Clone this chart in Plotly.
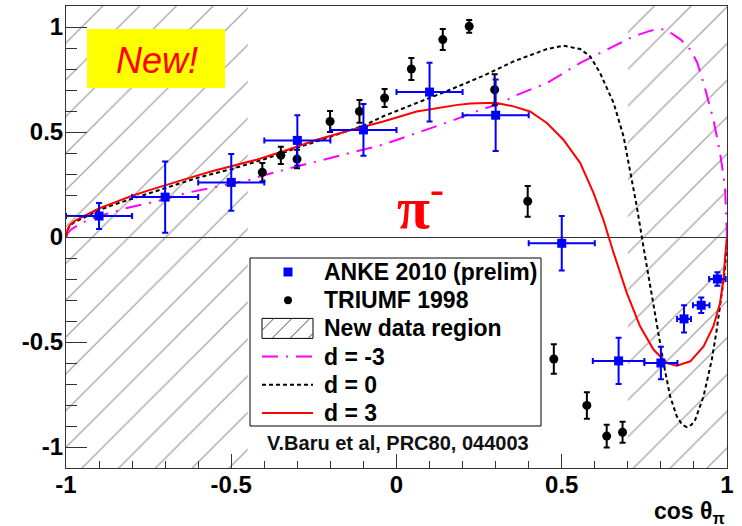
import plotly.graph_objects as go

# ---------------- data ----------------
# ANKE 2010 (prelim) analysing power
anke_x = [-0.9, -0.7, -0.5, -0.3, -0.1, 0.1, 0.3, 0.5, 0.672, 0.8, 0.87, 0.922, 0.971]
anke_y = [0.10, 0.19, 0.26, 0.46, 0.51, 0.69, 0.58, -0.03, -0.59, -0.60, -0.39, -0.325, -0.20]
anke_xerr = [0.1, 0.1, 0.1, 0.1, 0.1, 0.1, 0.1, 0.1, 0.078, 0.05, 0.021, 0.025, 0.025]
anke_yerr = [0.062, 0.17, 0.135, 0.12, 0.123, 0.14, 0.17, 0.13, 0.11, 0.077, 0.065, 0.037, 0.032]

# TRIUMF 1998
triumf_x = [-0.406, -0.35, -0.301, -0.201, -0.112, -0.036, 0.045, 0.140, 0.22, 0.297,
            0.397, 0.476, 0.576, 0.636, 0.684]
triumf_y = [0.308, 0.389, 0.371, 0.55, 0.598, 0.662, 0.80, 0.94, 1.003, 0.701,
            0.17, -0.581, -0.802, -0.948, -0.93]
triumf_yerr = [0.044, 0.041, 0.044, 0.05, 0.054, 0.043, 0.052, 0.05, 0.03, 0.074,
               0.073, 0.07, 0.063, 0.054, 0.05]

# theory curves, d = 3
d3_x = [-1.0, -0.998, -0.995, -0.988, -0.975, -0.958, -0.93, -0.897, -0.85, -0.806, -0.75,
        -0.706, -0.65, -0.594, -0.55, -0.504, -0.423, -0.342, -0.241, -0.14, -0.04, 0.061,
        0.122, 0.18, 0.223, 0.27, 0.3, 0.354, 0.404, 0.455, 0.505, 0.556, 0.596, 0.626,
        0.657, 0.697, 0.737, 0.778, 0.818, 0.848, 0.889, 0.929, 0.959, 0.979, 0.989,
        0.994, 0.998, 1.0]
d3_y = [0.0, 0.022, 0.036, 0.058, 0.075, 0.09, 0.112, 0.138, 0.166, 0.193, 0.222,
        0.244, 0.272, 0.297, 0.317, 0.336, 0.368, 0.408, 0.463, 0.508, 0.55, 0.598,
        0.614, 0.628, 0.636, 0.64, 0.639, 0.622, 0.598, 0.543, 0.463, 0.352, 0.21, 0.082,
        -0.076, -0.267, -0.425, -0.537, -0.6, -0.613, -0.592, -0.521, -0.425, -0.314, -0.203,
        -0.1, -0.03, 0.0]

# d = 0
d0_x = [-1.0, -0.998, -0.995, -0.988, -0.975, -0.958, -0.93, -0.9, -0.85, -0.8, -0.7,
        -0.6, -0.5, -0.4, -0.3, -0.2, -0.1, -0.04, 0.061, 0.162, 0.263, 0.354, 0.455,
        0.505, 0.556, 0.586, 0.616, 0.657, 0.687, 0.707, 0.727, 0.747, 0.768, 0.788,
        0.808, 0.828, 0.848, 0.865, 0.879, 0.892, 0.904, 0.929, 0.954, 0.969, 0.984,
        0.994, 1.0]
d0_y = [0.0, 0.02, 0.034, 0.055, 0.07, 0.083, 0.105, 0.128, 0.157, 0.182, 0.232,
        0.283, 0.323, 0.37, 0.425, 0.478, 0.53, 0.575, 0.638, 0.701, 0.768, 0.836, 0.895,
        0.911, 0.895, 0.86, 0.781, 0.638, 0.479, 0.32, 0.146, -0.045, -0.235, -0.425,
        -0.6, -0.759, -0.854, -0.895, -0.905, -0.895, -0.87, -0.759, -0.584, -0.441, -0.283,
        -0.156, 0.0]

# d = -3
dm3_x = [-1.0, -0.995, -0.985, -0.97, -0.958, -0.93, -0.9, -0.85, -0.816, -0.75, -0.7,
         -0.635, -0.57, -0.514, -0.443, -0.413, -0.302, -0.22, -0.14, -0.04, 0.061, 0.162,
         0.253, 0.314, 0.354, 0.455, 0.556, 0.657, 0.717, 0.76, 0.788, 0.81, 0.828, 0.86,
         0.889, 0.91, 0.929, 0.959, 0.979, 0.994, 0.999, 1.0]
dm3_y = [0.0, 0.018, 0.035, 0.052, 0.063, 0.082, 0.1, 0.122, 0.138, 0.162, 0.18,
         0.21, 0.23, 0.249, 0.273, 0.289, 0.336, 0.368, 0.4, 0.44, 0.495, 0.55,
         0.605, 0.635, 0.67, 0.733, 0.829, 0.908, 0.955, 0.978, 0.99, 0.988, 0.974, 0.94,
         0.892, 0.83, 0.733, 0.559, 0.4, 0.241, 0.08, 0.0]

# regions covered by the new measurement
new_region_left = [-1.0, -0.45]
new_region_right = [0.7, 1.0]

# axes
x_range = [-1.0, 1.0]
y_range = [-1.1, 1.1]
x_tickvals = [-1, -0.5, 0, 0.5, 1]
x_ticktext = ["-1", "-0.5", "0", "0.5", "1"]
y_tickvals = [-1, -0.5, 0, 0.5, 1]
y_ticktext = ["-1", "-0.5", "0", "0.5", "1"]

# ---------------- layout geometry ----------------
W, H = 742, 526
ML, MR, MT, MB = 66, 15, 6, 58
PW, PH = W - ML - MR, H - MT - MB


def fx(px):
    return (px - ML) / PW


def fy(py):
    return (H - MB - py) / PH


FONT = "Liberation Sans, Arial, sans-serif"
AXIS_COL = "#333333"
HATCH_COL = "#4a4a4a"

fig = go.Figure()

# hatched regions (one trace, two polygons)
hx, hy = [], []
for lo, hi in (new_region_left, new_region_right):
    hx += [lo, hi, hi, lo, lo, None]
    hy += [y_range[0], y_range[0], y_range[1], y_range[1], y_range[0], None]
fig.add_trace(go.Scatter(
    x=hx, y=hy, mode="lines", fill="toself", line=dict(width=0),
    fillcolor="rgba(0,0,0,0)",
    fillpattern=dict(shape="/", size=26, solidity=0.05, fgcolor=HATCH_COL,
                     bgcolor="rgba(0,0,0,0)", fillmode="overlay"),
    hoverinfo="skip", showlegend=False,
))

# theory curves
fig.add_trace(go.Scatter(x=dm3_x, y=dm3_y, mode="lines",
                         line=dict(color="#ff00ff", width=2, dash="16px,8px,2px,8px"),
                         showlegend=False))
fig.add_trace(go.Scatter(x=d0_x, y=d0_y, mode="lines",
                         line=dict(color="black", width=2, dash="4px,3px"),
                         showlegend=False))
fig.add_trace(go.Scatter(x=d3_x, y=d3_y, mode="lines",
                         line=dict(color="#ff0000", width=2),
                         showlegend=False))

# measurements
fig.add_trace(go.Scatter(
    x=triumf_x, y=triumf_y, mode="markers",
    marker=dict(symbol="circle", size=9, color="black"),
    error_y=dict(type="data", array=triumf_yerr, color="black", thickness=2, width=3),
    showlegend=False,
))
fig.add_trace(go.Scatter(
    x=anke_x, y=anke_y, mode="markers",
    marker=dict(symbol="square", size=9, color="#0000ff"),
    error_x=dict(type="data", array=anke_xerr, color="#0000ff", thickness=2, width=3),
    error_y=dict(type="data", array=anke_yerr, color="#0000ff", thickness=2, width=3),
    showlegend=False,
))

shapes = []
annotations = []

# "New!" badge
shapes.append(dict(type="rect", xref="paper", yref="paper", layer="above",
                   x0=fx(87), x1=fx(225), y0=fy(88), y1=fy(29),
                   fillcolor="#ffff00", line=dict(width=0)))
annotations.append(dict(xref="paper", yref="paper", x=fx(157), y=fy(60),
                        text="New!", showarrow=False, xanchor="center", yanchor="middle",
                        font=dict(family=FONT, size=36, color="#ff0000", style="italic")))

# pi- label
annotations.append(dict(xref="paper", yref="paper", x=fx(420), y=fy(203),
                        text="<b>π<sup>-</sup></b>", showarrow=False,
                        xanchor="center", yanchor="middle",
                        font=dict(family="Liberation Serif, serif", size=60, color="#ff0000")))

# legend box
LX0, LY0, LX1, LY1 = 250, 258, 541, 426
shapes.append(dict(type="rect", xref="paper", yref="paper", layer="above",
                   x0=fx(LX0), x1=fx(LX1), y0=fy(LY1), y1=fy(LY0),
                   fillcolor="white", line=dict(color="black", width=1)))
row_y0, row_dy = 272, 28.2
sym_cx, smp_x0, smp_x1, txt_x = 288, 262, 313, 322
labels = ["ANKE 2010 (prelim)", "TRIUMF 1998", "New data region", "d = -3", "d = 0", "d = 3"]
for i, lab in enumerate(labels):
    yy = row_y0 + i * row_dy
    annotations.append(dict(xref="paper", yref="paper", x=fx(txt_x), y=fy(yy), text=lab,
                            showarrow=False, xanchor="left", yanchor="middle",
                            font=dict(family=FONT, size=23, color="black", weight="bold")))
# sample: blue square
y0 = row_y0
shapes.append(dict(type="rect", xref="paper", yref="paper", layer="above",
                   x0=fx(sym_cx - 4.5), x1=fx(sym_cx + 4.5), y0=fy(y0 + 4.5), y1=fy(y0 - 4.5),
                   fillcolor="#0000ff", line=dict(width=0)))
# sample: black dot
y1 = row_y0 + row_dy
shapes.append(dict(type="circle", xref="paper", yref="paper", layer="above",
                   x0=fx(sym_cx - 4), x1=fx(sym_cx + 4), y0=fy(y1 + 4), y1=fy(y1 - 4),
                   fillcolor="black", line=dict(width=0)))
# sample: hatched box
y2 = row_y0 + 2 * row_dy
bx0, bx1, by0, by1 = smp_x0, smp_x1, y2 - 10, y2 + 10
shapes.append(dict(type="rect", xref="paper", yref="paper", layer="above",
                   x0=fx(bx0), x1=fx(bx1), y0=fy(by1), y1=fy(by0),
                   fillcolor="white", line=dict(color="black", width=1)))
for start in (bx0 - 8, bx0 + 10, bx0 + 28, bx0 + 46):
    # 45 degree lines clipped to the box
    xa, ya = start, by1
    xb, yb = start + (by1 - by0), by0
    if xa < bx0:
        ya -= bx0 - xa
        xa = bx0
    if xb > bx1:
        yb += xb - bx1
        xb = bx1
    if xb <= xa:
        continue
    shapes.append(dict(type="line", xref="paper", yref="paper", layer="above",
                       x0=fx(xa), y0=fy(ya), x1=fx(xb), y1=fy(yb),
                       line=dict(color=HATCH_COL, width=1)))
# sample lines
line_styles = [("#ff00ff", "16px,8px,2px,8px"), ("black", "4px,3px"), ("#ff0000", "solid")]
for k, (col, dash) in enumerate(line_styles):
    yy = row_y0 + (3 + k) * row_dy
    shapes.append(dict(type="line", xref="paper", yref="paper", layer="above",
                       x0=fx(smp_x0), x1=fx(smp_x1), y0=fy(yy), y1=fy(yy),
                       line=dict(color=col, width=2, dash=dash)))

# reference note
annotations.append(dict(xref="paper", yref="paper", x=fx(265), y=fy(443),
                        text="V.Baru et al, PRC80, 044003", showarrow=False,
                        xanchor="left", yanchor="middle",
                        font=dict(family=FONT, size=20, color="#111111", weight="bold")))

# x-axis title at the right end
annotations.append(dict(xref="paper", yref="paper", x=1.0, y=fy(512),
                        text="cos θ<sub>π</sub>", showarrow=False,
                        xanchor="right", yanchor="middle",
                        font=dict(family=FONT, size=23, color="black", weight="bold")))

fig.update_layout(
    width=W, height=H,
    margin=dict(l=ML, r=MR, t=MT, b=MB),
    paper_bgcolor="white", plot_bgcolor="white",
    showlegend=False,
    shapes=shapes, annotations=annotations,
    xaxis=dict(range=x_range, showgrid=False, zeroline=False,
               showline=True, mirror=True, linecolor=AXIS_COL, linewidth=1,
               ticks="inside", ticklen=14, tickwidth=1, tickcolor=AXIS_COL,
               tickmode="array", tickvals=x_tickvals, ticktext=x_ticktext,
               ticklabelstandoff=-5,
               minor=dict(ticks="inside", ticklen=7, tickwidth=1, tickcolor=AXIS_COL,
                          tickmode="linear", tick0=-1, dtick=0.1, showgrid=False),
               tickfont=dict(family=FONT, size=24, color="black", weight="bold")),
    yaxis=dict(range=y_range, showgrid=False,
               zeroline=True, zerolinecolor=AXIS_COL, zerolinewidth=1,
               showline=True, mirror=True, linecolor=AXIS_COL, linewidth=1,
               ticks="inside", ticklen=21, tickwidth=1, tickcolor=AXIS_COL,
               tickmode="array", tickvals=y_tickvals, ticktext=y_ticktext,
               ticklabelstandoff=-3,
               minor=dict(ticks="inside", ticklen=11, tickwidth=1, tickcolor=AXIS_COL,
                          tickmode="linear", tick0=-1, dtick=0.1, showgrid=False),
               tickfont=dict(family=FONT, size=24, color="black", weight="bold")),
)

fig.write_html("out.html")
